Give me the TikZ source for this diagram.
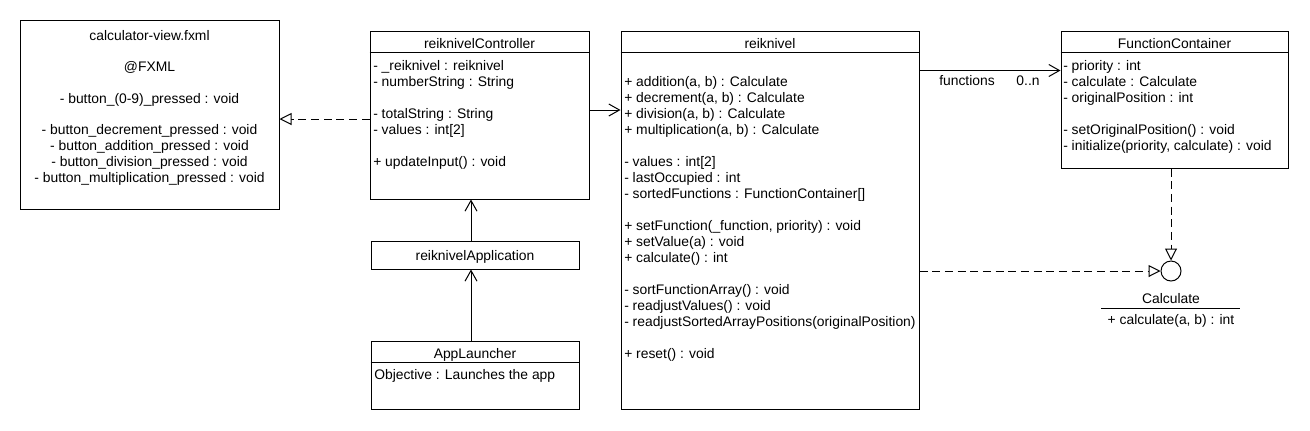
\documentclass[tikz,border=0pt]{standalone}
\usepackage{fontspec}
\setmainfont{Liberation Sans}
\usetikzlibrary{arrows.meta,fit,calc}
\begin{document}
\begin{tikzpicture}[x=0.75pt,y=-0.75pt,
  box/.style={draw, line width=0.75pt, inner sep=0pt},
  lbl/.style={inner sep=0pt, text height=7.4pt, text depth=0pt, font=\fontsize{10.4}{12}\selectfont, anchor=west},
  clbl/.style={lbl, anchor=center},
  conn/.style={line width=0.75pt},
  dsh/.style={conn, dash pattern=on 6pt off 3.5pt},
  barb/.style={-{Straight Barb[length=8pt,width=9pt]}},
  realize/.style={-{Triangle[open,length=9pt,width=9pt,fill=white]}},
]
\fill[white] (0,0) rectangle (1310,430);
\useasboundingbox (0,0) rectangle (1310,430);

% ---------- calculator-view.fxml ----------
\node[box, fit={(20,20) (279,209)}] (view) {};
\node[clbl] (v1) at (149.5,36)  {calculator-view.fxml};
\node[clbl] (v2) at (149.5,67)  {@FXML};
\node[clbl] (v3) at (149.5,99)  {- button\_(0-9)\_pressed : void};
\node[clbl] (v4) at (149.5,130) {- button\_decrement\_pressed : void};
\node[clbl] (v5) at (149.5,146) {- button\_addition\_pressed : void};
\node[clbl] (v6) at (149.5,162) {- button\_division\_pressed : void};
\node[clbl] (v7) at (149.5,178) {- button\_multiplication\_pressed : void};

% ---------- reiknivelController ----------
\node[box, fit={(370,31) (589,199)}] (ctrl) {};
\draw[conn] ($(ctrl.north west)+(0,22)$) -- ($(ctrl.north east)+(0,22)$);
\node[clbl] (c0) at (479.5,44) {reiknivelController};
\node[lbl] (c1) at (373,66)  {- \_reiknivel : reiknivel};
\node[lbl] (c2) at (373,82)  {- numberString : String};
\node[lbl] (c3) at (373,114) {- totalString : String};
\node[lbl] (c4) at (373,130) {- values : int[2]};
\node[lbl] (c5) at (373,162) {+ updateInput() : void};

% ---------- reiknivelApplication ----------
\node[box, fit={(371,241) (579,269)}] (app) {};
\node[clbl] (a0) at (475,256) {reiknivelApplication};

% ---------- AppLauncher ----------
\node[box, fit={(371,341) (579,409)}] (launch) {};
\draw[conn] ($(launch.north west)+(0,22)$) -- ($(launch.north east)+(0,22)$);
\node[clbl] (l0) at (475,354) {AppLauncher};
\node[lbl] (l1) at (374,375) {Objective : Launches the app};

% ---------- reiknivel ----------
\node[box, fit={(621,31) (919,409)}] (reik) {};
\draw[conn] ($(reik.north west)+(0,22)$) -- ($(reik.north east)+(0,22)$);
\node[clbl] (r0) at (770,44) {reiknivel};
\node[lbl] (r1)  at (624,82)  {+ addition(a, b) : Calculate};
\node[lbl] (r2)  at (624,98)  {+ decrement(a, b) : Calculate};
\node[lbl] (r3)  at (624,114) {+ division(a, b) : Calculate};
\node[lbl] (r4)  at (624,130) {+ multiplication(a, b) : Calculate};
\node[lbl] (r5)  at (624,162) {- values : int[2]};
\node[lbl] (r6)  at (624,178) {- lastOccupied : int};
\node[lbl] (r7)  at (624,194) {- sortedFunctions : FunctionContainer[]};
\node[lbl] (r8)  at (624,226) {+ setFunction(\_function, priority) : void};
\node[lbl] (r9)  at (624,242) {+ setValue(a) : void};
\node[lbl] (r10) at (624,258) {+ calculate() : int};
\node[lbl] (r11) at (624,290) {- sortFunctionArray() : void};
\node[lbl] (r12) at (624,306) {- readjustValues() : void};
\node[lbl] (r13) at (624,322) {- readjustSortedArrayPositions(originalPosition)};
\node[lbl] (r14) at (624,354) {+ reset() : void};

% ---------- FunctionContainer ----------
\node[box, fit={(1061,31) (1288,168)}] (fc) {};
\draw[conn] ($(fc.north west)+(0,22)$) -- ($(fc.north east)+(0,22)$);
\node[clbl] (f0) at (1174.5,44) {FunctionContainer};
\node[lbl] (f1) at (1063,66)  {- priority : int};
\node[lbl] (f2) at (1063,82)  {- calculate : Calculate};
\node[lbl] (f3) at (1063,98)  {- originalPosition : int};
\node[lbl] (f4) at (1063,130) {- setOriginalPosition() : void};
\node[lbl] (f5) at (1063,146) {- initialize(priority, calculate) : void};

% ---------- Calculate interface ----------
\node[draw, circle, minimum size=15pt, inner sep=0pt, line width=0.75pt] (ci) at (1171,271) {};
\node[clbl] (k0) at (1171,299) {Calculate};
\coordinate (kl) at (1101,308);
\coordinate (kr) at (1240,308);
\draw[conn] (kl) -- (kr);
\node[clbl] (k1) at (1171,320) {+ calculate(a, b) : int};

% ---------- connectors ----------
\draw[dsh, realize] ([yshift=-3pt]ctrl.west) -- ([yshift=-3pt]ctrl.west -| view.east);
\draw[conn, barb] ([yshift=3.75pt]ctrl.east) -- ([yshift=3.75pt]ctrl.east -| reik.west);
\draw[conn, barb] ([xshift=-3pt]launch.north) -- ([xshift=-3pt]launch.north |- app.south);
\draw[conn, barb] ([xshift=-3pt]app.north) -- ([xshift=-3pt]app.north |- ctrl.south);
\draw[conn, barb] ([yshift=-30pt]reik.north east) -- ([yshift=-30pt]reik.north east -| fc.west);
\node[clbl] (fn) at (967,81) {functions};
\node[clbl] (mn) at (1028,81) {0..n};
\draw[dsh, realize] (fc.south -| ci.center) -- (ci.north);
\draw[dsh, realize] (reik.east |- ci.center) -- (ci.west);
\end{tikzpicture}
\end{document}
